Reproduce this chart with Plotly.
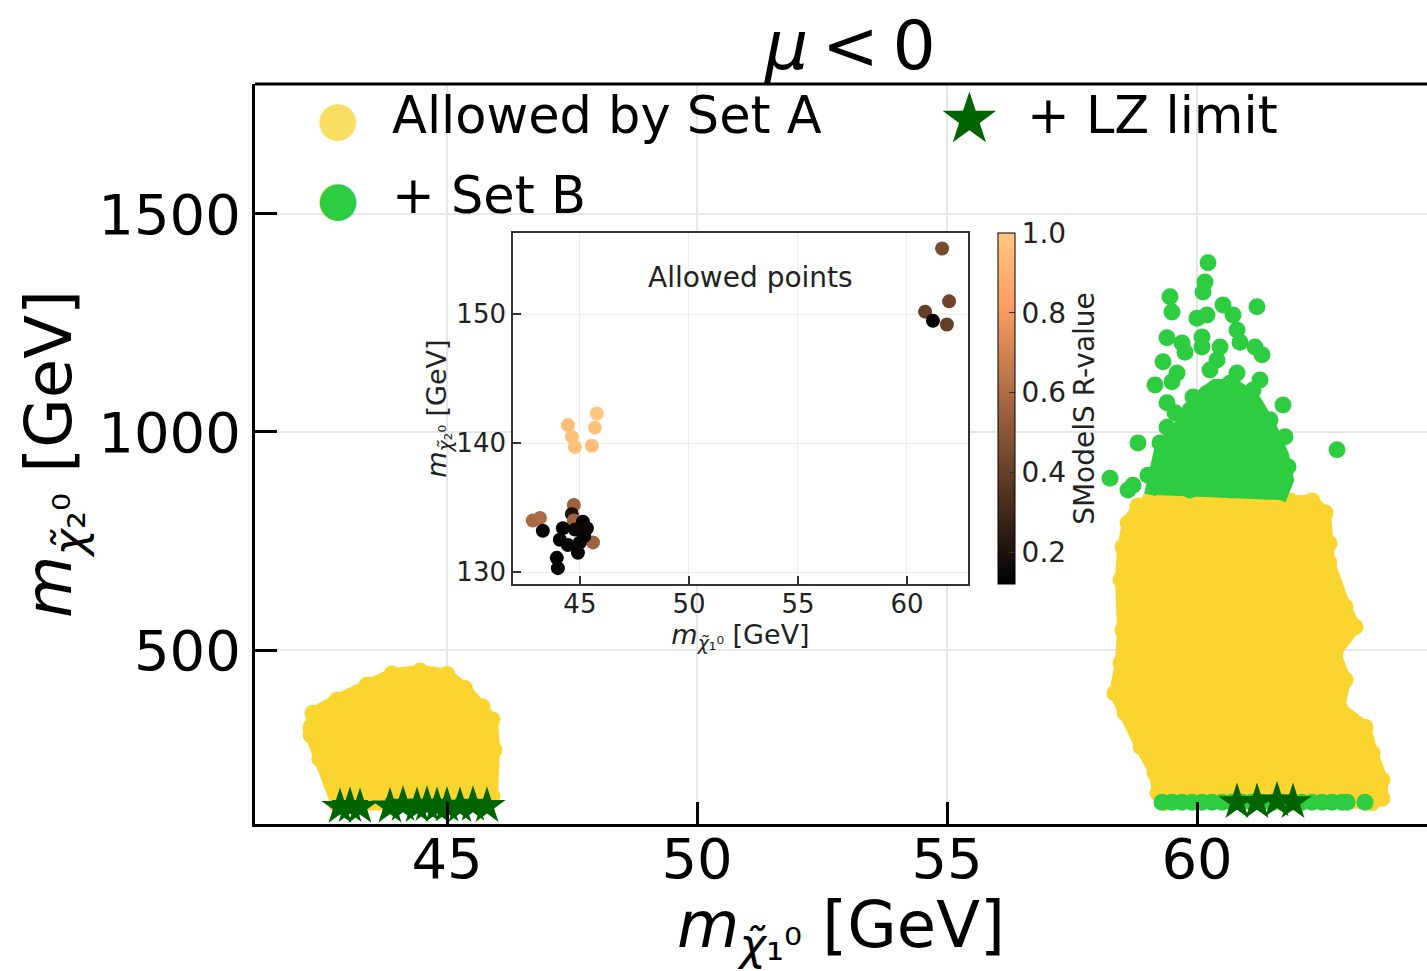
import plotly.graph_objects as go

FONT = "DejaVu Sans"

# ---------------- main panel data ----------------
# dense "Allowed by Set A" clouds, given by their outlines (m_chi1, m_chi2)
setA_left_x = [42.28, 42.32, 42.8, 43.4, 43.9, 44.46, 45.0, 45.35, 45.7, 45.9, 45.94, 45.9, 45.8, 44.3, 42.8, 42.46, 42.28]
setA_left_y = [323, 355, 385, 420, 445, 452, 444, 412, 370, 340, 271, 165, 146, 146, 146, 250, 305]

setA_right_x = [59.05, 59.8, 60.8, 61.86, 62.3, 62.56, 62.64, 62.64, 62.96, 63.16, 62.76, 62.96, 62.84,
                63.36, 63.5, 63.7, 63.7, 63.5, 61.5, 59.36, 59.22, 59.16, 58.88, 58.56, 58.36, 58.48,
                58.52, 58.48, 58.52, 58.62, 58.82]
setA_right_y = [842, 842, 842, 842, 842, 815, 745, 700, 599, 553, 493, 431, 369,
                323, 264, 202, 160, 150, 150, 150, 172, 218, 278, 356, 401, 470,
                546, 661, 736, 791, 830]

# dense core of "+ Set B" cloud (outline)
setB_core_x = [59.06, 59.26, 59.66, 59.96, 60.36, 60.76, 61.16, 61.46, 61.72, 61.82, 61.66]
setB_core_y = [856, 959, 1016, 1073, 1108, 1108, 1073, 1016, 947, 890, 844]

# individual "+ Set B" points
setB_x = [60.22, 60.16, 60.12, 59.46, 59.5, 60.52, 60.72, 61.2, 60.0, 60.2, 60.8, 59.4, 59.7, 59.76,
          60.1, 60.1, 60.46, 60.86, 61.16, 61.3, 59.32, 60.4, 60.26, 59.6, 59.5, 59.16, 60.8, 61.26,
          60.66, 61.12, 59.92, 60.2, 60.52, 59.4, 61.72, 59.56, 59.86, 60.92, 61.46, 59.4, 61.76,
          58.82, 59.26, 62.8, 61.4, 61.6, 61.82, 58.26, 59.02, 58.72, 58.62, 59.46, 59.86, 60.66,
          61.52, 61.06, 61.6]
setB_y = [1388, 1344, 1321, 1310, 1275, 1291, 1268, 1287, 1261, 1268, 1234, 1216, 1204, 1183,
          1218, 1195, 1195, 1206, 1195, 1177, 1161, 1165, 1142, 1135, 1115, 1108, 1135, 1119,
          1112, 1096, 1080, 1089, 1080, 1067, 1062, 1044, 1050, 1057, 1028, 1011, 989,
          975, 975, 959, 966, 943, 920, 894, 901, 878, 867, 883, 867, 867,
          867, 883, 883]

# low-mass "+ Set B" row
setB_row_x = [59.3, 59.5, 59.7, 59.9, 60.1, 60.3, 60.5, 60.7, 60.9, 61.1, 61.3, 61.5, 61.7, 61.9,
              62.1, 62.3, 62.5, 62.7, 62.9, 63.0, 63.36]
setB_row_y = [151] * 21

# "+ LZ limit" points
lz_x = [42.86, 43.06, 43.26, 43.86, 44.12, 44.4, 44.6, 44.8, 45.0, 45.26, 45.52, 45.8,
        60.8, 61.2, 61.6, 61.92]
lz_y = [140, 142, 140, 141, 145, 142, 145, 142, 143, 142, 145, 142,
        151, 151, 155, 151]

# ---------------- inset data ----------------
ins_x = [44.45, 44.63, 44.77, 45.78, 45.69, 45.55,
         42.84, 43.17, 43.30, 44.72, 44.63, 44.72, 44.22, 45.14, 45.32, 44.08, 44.45, 44.91,
         45.6, 43.94, 43.99, 45.0, 44.77, 45.2,
         61.61, 61.93, 60.83, 61.19, 61.83]
ins_y = [141.4, 140.5, 139.7, 142.3, 141.2, 139.8,
         134.0, 134.2, 133.2, 135.2, 134.5, 134.0, 133.4, 133.9, 133.4, 132.5, 132.1, 131.5,
         132.3, 131.1, 130.3, 132.3, 133.3, 132.8,
         155.1, 151.0, 150.2, 149.5, 149.2]
ins_r = [0.96, 0.97, 0.98, 1.0, 0.97, 0.96,
         0.58, 0.6, 0.14, 0.55, 0.2, 0.56, 0.13, 0.14, 0.15, 0.13, 0.14, 0.13,
         0.55, 0.13, 0.14, 0.15, 0.16, 0.14,
         0.45, 0.42, 0.4, 0.12, 0.4]

x_ticks = [45, 50, 55, 60]
y_ticks = [500, 1000, 1500]
ins_x_ticks = [45, 50, 55, 60]
ins_y_ticks = [130, 140, 150]
cb_ticks = [0.2, 0.4, 0.6, 0.8, 1.0]

YELLOW = "rgb(250,213,48)"
GREEN = "rgb(46,204,64)"
DKGREEN = "rgb(0,100,0)"
copper = [[0.0, "rgb(0,0,0)"], [0.8, "rgb(255,159,101)"], [1.0, "rgb(255,199,127)"]]

X_RANGE = [41.16, 64.6]
Y_RANGE = [101, 1798]
ins_x0, ins_x1, ins_y0, ins_y1 = 0.2201, 0.6084, 0.3243, 0.7986

fig = go.Figure()

for xs, ys in [(setA_left_x, setA_left_y), (setA_right_x, setA_right_y)]:
    fig.add_trace(go.Scatter(x=xs, y=ys, mode="lines+markers", fill="toself",
                             fillcolor=YELLOW, line=dict(color=YELLOW, width=12),
                             marker=dict(color=YELLOW, size=17), showlegend=False,
                             name="Allowed by Set A"))

fig.add_trace(go.Scatter(x=setB_core_x, y=setB_core_y, mode="lines", fill="toself",
                         fillcolor=GREEN, line=dict(color=GREEN, width=12), showlegend=False,
                         name="+ Set B"))
fig.add_trace(go.Scatter(x=setB_x, y=setB_y, mode="markers",
                         marker=dict(color=GREEN, size=17), showlegend=False, name="+ Set B"))
fig.add_trace(go.Scatter(x=setB_row_x, y=setB_row_y, mode="markers",
                         marker=dict(color=GREEN, size=17), showlegend=False, name="+ Set B"))
fig.add_trace(go.Scatter(x=lz_x, y=lz_y, mode="markers",
                         marker=dict(color=DKGREEN, size=28, symbol="star"),
                         showlegend=False, name="+ LZ limit"))

# inset
fig.add_trace(go.Scatter(
    x=ins_x, y=ins_y, xaxis="x2", yaxis="y2", mode="markers", showlegend=False,
    marker=dict(size=14, color=ins_r, colorscale=copper, cmin=0.12, cmax=1.0,
                colorbar=dict(x=0.634, xanchor="left", y=ins_y0, yanchor="bottom",
                              len=ins_y1 - ins_y0, lenmode="fraction", thickness=17,
                              thicknessmode="pixels", xpad=0, ypad=0,
                              outlinewidth=1, outlinecolor="black",
                              tickvals=cb_ticks, ticktext=[f"{v:.1f}" for v in cb_ticks],
                              ticks="inside", ticklen=6, tickcolor="#333",
                              tickfont=dict(family=FONT, size=28, color="#222"),
                              title=dict(text="SModelS R-value", side="right",
                                         font=dict(family=FONT, size=28, color="#222")))),
))

# white backing for the inset, in main-axis units
bx0 = X_RANGE[0] + ins_x0 * (X_RANGE[1] - X_RANGE[0])
bx1 = X_RANGE[0] + ins_x1 * (X_RANGE[1] - X_RANGE[0])
by0 = Y_RANGE[0] + ins_y0 * (Y_RANGE[1] - Y_RANGE[0])
by1 = Y_RANGE[0] + ins_y1 * (Y_RANGE[1] - Y_RANGE[0])

def ann(text, x, y, size, color="black", xanchor="center"):
    return dict(text=text, xref="paper", yref="paper", x=x, y=y, xanchor=xanchor,
                yanchor="middle", showarrow=False,
                font=dict(family=FONT, size=size, color=color))

fig.update_layout(
    width=1427, height=971,
    margin=dict(l=255, r=0, t=84, b=147),
    paper_bgcolor="white", plot_bgcolor="white",
    font=dict(family=FONT, color="black"),
    title=dict(text="<i>μ</i>\u2009<\u20090", x=0.508, xref="paper", xanchor="center",
               y=1 - 45 / 971, yref="container", yanchor="middle",
               font=dict(family=FONT, size=68, color="black")),
    xaxis=dict(range=X_RANGE, tickvals=x_ticks, showgrid=True, gridcolor="#e6e6e6",
               gridwidth=1.5, showline=True, linecolor="black", linewidth=3, mirror=False,
               ticks="inside", ticklen=22, tickwidth=3, tickcolor="black",
               ticklabelstandoff=-16,
               tickfont=dict(family=FONT, size=56, color="black"), zeroline=False,
               title=dict(text="<i>m</i><sub><i>χ̃</i>₁⁰</sub> [GeV]", standoff=4,
                          font=dict(family=FONT, size=64, color="black"))),
    yaxis=dict(range=Y_RANGE, tickvals=y_ticks, showgrid=True, gridcolor="#e6e6e6",
               gridwidth=1.5, showline=True, linecolor="black", linewidth=3, mirror=False,
               ticks="inside", ticklen=22, tickwidth=3, tickcolor="black",
               tickfont=dict(family=FONT, size=56, color="black"), zeroline=False,
               title=dict(text="<i>m</i><sub><i>χ̃</i>₂⁰</sub> [GeV]", standoff=6,
                          font=dict(family=FONT, size=64, color="black"))),
    xaxis2=dict(domain=[ins_x0, ins_x1], anchor="y2", range=[41.93, 62.8],
                tickvals=ins_x_ticks, showgrid=True, gridcolor="#ececec", gridwidth=1,
                showline=True, linecolor="#333", linewidth=1.5, mirror=True,
                ticks="inside", ticklen=8, tickwidth=1.5, tickcolor="#333", zeroline=False,
                ticklabelstandoff=-4,
                tickfont=dict(family=FONT, size=26, color="#222"),
                title=dict(text="<i>m</i><sub><i>χ̃</i>₁⁰</sub> [GeV]", standoff=0,
                           font=dict(family=FONT, size=27, color="#222"))),
    yaxis2=dict(domain=[ins_y0, ins_y1], anchor="x2", range=[129.07, 156.3],
                tickvals=ins_y_ticks, showgrid=True, gridcolor="#ececec", gridwidth=1,
                showline=True, linecolor="#333", linewidth=1.5, mirror=True,
                ticks="inside", ticklen=8, tickwidth=1.5, tickcolor="#333", zeroline=False,
                tickfont=dict(family=FONT, size=26, color="#222"),
                title=dict(text="<i>m</i><sub><i>χ̃</i>₂⁰</sub> [GeV]", standoff=2,
                           font=dict(family=FONT, size=27, color="#222"))),
    shapes=[
        dict(type="rect", xref="x", yref="y", x0=bx0, x1=bx1, y0=by0, y1=by1,
             fillcolor="white", line=dict(width=0), layer="between"),
        dict(type="line", xref="paper", yref="paper", x0=0, x1=1, y0=1, y1=1,
             line=dict(color="black", width=3)),
    ],
    annotations=[
        ann("Allowed points", 0.4224, 0.738, 28, "#222"),
        # legend
        ann("●", 0.0708, 0.954, 48, "rgb(250,222,100)"),
        ann("Allowed by Set A", 0.1152, 0.958, 51, xanchor="left"),
        ann("●", 0.0708, 0.846, 48, GREEN),
        ann("+ Set B", 0.1152, 0.85, 51, xanchor="left"),
        ann("★", 0.610, 0.954, 70, DKGREEN),
        ann("+ LZ limit", 0.657, 0.958, 51, xanchor="left"),
    ],
)

fig.write_html("out.html")
